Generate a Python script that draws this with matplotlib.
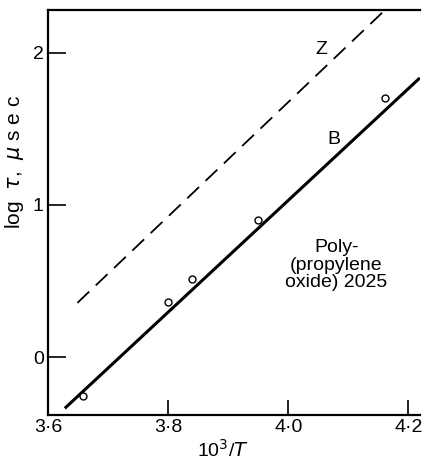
import matplotlib
matplotlib.use('Agg')
import matplotlib.pyplot as plt

# Line B (solid) and line Z (dashed), end points
b_x = [3.628, 4.219]
b_y = [-0.336, 1.835]
z_x = [3.649, 4.158]
z_y = [0.357, 2.27]

# measured points
pts_x = [3.659, 3.799, 3.840, 3.950, 4.161]
pts_y = [-0.257, 0.364, 0.511, 0.901, 1.70]

x_ticks = [3.6, 3.8, 4.0, 4.2]
x_labels = ['3·6', '3·8', '4·0', '4·2']
y_ticks = [0, 1, 2]
y_labels = ['0', '1', '2']

plt.rcParams['font.family'] = ['Liberation Sans', 'DejaVu Sans']

fig = plt.figure(figsize=(4.22, 4.62), dpi=100)
ax = fig.add_axes([0.1137, 0.1017, 0.995 - 0.1137, 0.978 - 0.1017])

ax.plot(b_x, b_y, color='black', lw=2.2, solid_capstyle='butt')
ax.plot(z_x, z_y, color='black', lw=1.3, dashes=(9, 5))
ax.plot(pts_x, pts_y, 'o', mfc='white', mec='black', ms=5, mew=1)

ax.text(4.055, 2.02, 'Z', fontsize=14, ha='center', va='center')
ax.text(4.076, 1.43, 'B', fontsize=14, ha='center', va='center')
ax.text(4.08, 0.605, 'Poly-\n(propylene\noxide) 2025', fontsize=14,
        ha='center', va='center', multialignment='center', linespacing=1.05)

ax.set_xlim(3.6, 4.219)
ax.set_ylim(-0.38, 2.28)
ax.set_xticks(x_ticks)
ax.set_xticklabels(x_labels, fontsize=14)
ax.set_yticks(y_ticks)
ax.set_yticklabels(y_labels, fontsize=14)
ax.tick_params(direction='in', length=11, width=1.2, pad=3)
ax.tick_params(axis='y', length=13)

ax.spines['right'].set_visible(False)
for s in ['left', 'bottom', 'top']:
    ax.spines[s].set_linewidth(1.6)

ax.set_xlabel(r'10$^3$/$T$', fontsize=14)
ax.xaxis.set_label_coords(0.47, -0.06)
ax.set_ylabel(r'log  $\tau$,  $\mu$ s e c', fontsize=15)
ax.yaxis.set_label_coords(-0.06, 0.625)

fig.savefig('out.png', dpi=100)
